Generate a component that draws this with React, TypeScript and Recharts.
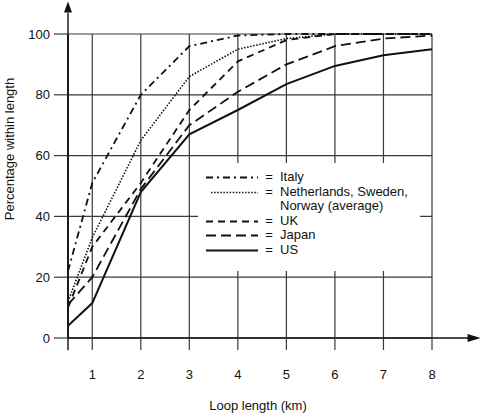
import {
  LineChart,
  Line,
  XAxis,
  YAxis,
  CartesianGrid,
  ReferenceLine,
  ReferenceDot,
  Legend,
} from 'recharts'

const loopKm = [0.5, 1, 2, 3, 4, 5, 6, 7, 8]
const italy = [22, 51, 80, 96, 99.5, 100, 100, 100, 100]
const nordic = [12, 33, 65, 86, 95, 98.5, 100, 100, 100]
const uk = [10, 30, 51, 75, 91, 98, 100, 100, 100]
const japan = [11, 20, 49, 70, 81, 90, 96, 98.5, 99.5]
const us = [4, 11.5, 48, 67, 75, 83.5, 89.5, 93, 95]

const xTicks = [1, 2, 3, 4, 5, 6, 7, 8]
const yTicks = [0, 20, 40, 60, 80, 100]

const FONT = '"Liberation Sans", Arial, Helvetica, sans-serif'
const INK = '#111'
const GRID = '#3a3a3a'

const series = [
  { key: 'italy', name: 'Italy', dash: '7 4 2 4', width: 1.8 },
  { key: 'nordic', name: 'Netherlands, Sweden, Norway (average)', dash: '1.5 1.6', width: 1.6 },
  { key: 'uk', name: 'UK', dash: '7 5', width: 1.8 },
  { key: 'japan', name: 'Japan', dash: '10 5', width: 1.8 },
  { key: 'us', name: 'US', dash: undefined, width: 2 },
]

const data = loopKm.map((km, i) => ({
  km,
  italy: italy[i],
  nordic: nordic[i],
  uk: uk[i],
  japan: japan[i],
  us: us[i],
}))

// arrow heads for the two axes
const UpArrow = (p: any) => (
  <polygon points={`${p.cx},${p.cy - 2} ${p.cx - 4},${p.cy + 9} ${p.cx + 4},${p.cy + 9}`} fill={INK} />
)
const RightArrow = (p: any) => (
  <polygon points={`${p.cx},${p.cy} ${p.cx - 13},${p.cy - 4} ${p.cx - 13},${p.cy + 4}`} fill={INK} />
)

function LegendBox() {
  return (
    <div
      style={{
        background: '#fff',
        width: 222,
        height: 108,
        padding: '7px 0 0 8px',
        boxSizing: 'border-box',
        fontFamily: FONT,
        fontSize: 13,
        lineHeight: '14.6px',
        color: INK,
      }}
    >
      {series.map((s) => (
        <div key={s.key} style={{ display: 'flex', alignItems: 'flex-start' }}>
          <svg width={52} height={14.6} style={{ flex: 'none' }}>
            <line
              x1={s.key === 'nordic' ? 5 : 0}
              x2={52}
              y1={7.5}
              y2={7.5}
              stroke={INK}
              strokeWidth={s.width}
              strokeDasharray={s.dash}
            />
          </svg>
          <span style={{ width: 22, textAlign: 'center', flex: 'none' }}>=</span>
          <span style={{ width: 135 }}>{s.name}</span>
        </div>
      ))}
    </div>
  )
}

export default function App() {
  return (
    <div style={{ position: 'absolute', left: 0, top: 0, background: '#fff' }}>
      <LineChart
        width={482}
        height={414}
        data={data}
        margin={{ top: 34, right: 50, bottom: 0, left: 0 }}
        style={{ fontFamily: FONT }}
      >
        <CartesianGrid stroke={GRID} strokeWidth={1.2} />
        <XAxis
          dataKey="km"
          type="number"
          domain={[0.5, 8]}
          ticks={xTicks}
          allowDataOverflow
          height={76}
          tickSize={12}
          tickMargin={20}
          tickLine={{ stroke: GRID, strokeWidth: 1.2 }}
          axisLine={{ stroke: INK, strokeWidth: 1.4 }}
          tick={{ fill: INK, fontSize: 13, fontFamily: FONT }}
          label={{
            content: (p: any) => {
              const vb = p.viewBox
              return (
                <text
                  x={vb.x + vb.width / 2 + 8}
                  y={vb.y + 67}
                  textAnchor="middle"
                  dominantBaseline="central"
                  fill={INK}
                  fontSize={13}
                  fontFamily={FONT}
                >
                  Loop length (km)
                </text>
              )
            },
          }}
        />
        <YAxis
          type="number"
          domain={[0, 100]}
          ticks={yTicks}
          width={68}
          tickSize={14}
          tickMargin={4}
          tickLine={{ stroke: GRID, strokeWidth: 1.2 }}
          axisLine={{ stroke: INK, strokeWidth: 1.4 }}
          tick={{ fill: INK, fontSize: 13, fontFamily: FONT }}
          label={{
            content: (p: any) => {
              const vb = p.viewBox
              const cx = vb.x + 9
              const cy = vb.y + vb.height / 2 - 37
              return (
                <text
                  x={cx}
                  y={cy}
                  transform={`rotate(-90, ${cx}, ${cy})`}
                  textAnchor="middle"
                  dominantBaseline="central"
                  fill={INK}
                  fontSize={13}
                  fontFamily={FONT}
                >
                  Percentage within length
                </text>
              )
            },
          }}
        />
        {series.map((s) => (
          <Line
            key={s.key}
            type="linear"
            dataKey={s.key}
            name={s.name}
            stroke={INK}
            strokeWidth={s.width}
            strokeDasharray={s.dash}
            dot={false}
            activeDot={false}
            isAnimationActive={false}
          />
        ))}
        {/* axis extensions + arrows */}
        <ReferenceLine
          segment={[{ x: 0.5, y: -4 }, { x: 0.5, y: 107 }]}
          stroke={INK}
          strokeWidth={1.4}
          ifOverflow="visible"
        />
        <ReferenceLine
          segment={[{ x: 8, y: 0 }, { x: 8.8, y: 0 }]}
          stroke={INK}
          strokeWidth={1.4}
          ifOverflow="visible"
        />
        <ReferenceDot x={0.5} y={110} ifOverflow="visible" shape={UpArrow} />
        <ReferenceDot x={9} y={0} ifOverflow="visible" shape={RightArrow} />
        <Legend
          layout="vertical"
          align="center"
          verticalAlign="middle"
          wrapperStyle={{ left: 198, top: 163, width: 222, height: 108 }}
          content={() => <LegendBox />}
        />
      </LineChart>
    </div>
  )
}
